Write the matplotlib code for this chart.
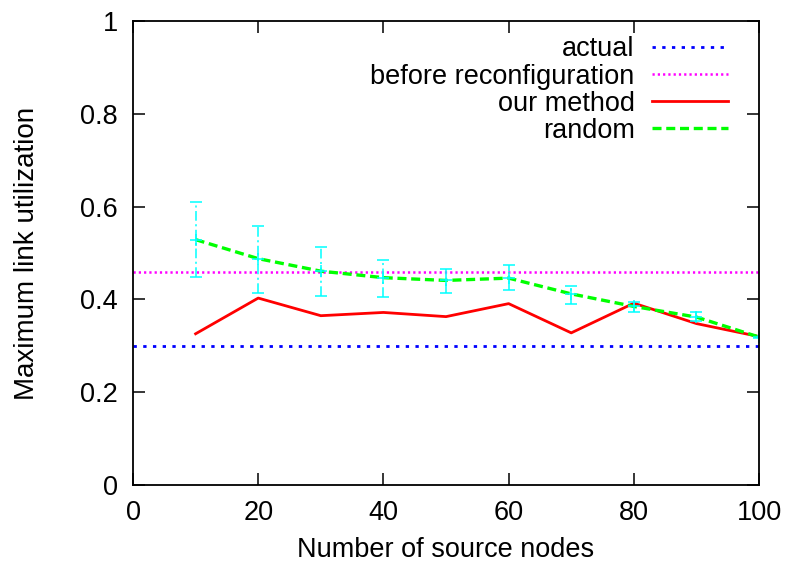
import numpy as np
import matplotlib
matplotlib.use("Agg")
import matplotlib.pyplot as plt

plt.rcParams['font.family'] = ['Liberation Sans', 'DejaVu Sans']
plt.rcParams['lines.scale_dashes'] = False

# number of source nodes
nodes = [10, 20, 30, 40, 50, 60, 70, 80, 90, 100]

# max link utilization per method
ours = [0.326, 0.403, 0.365, 0.372, 0.363, 0.391, 0.328, 0.392, 0.348, 0.320]
rand_mean = [0.529, 0.488, 0.461, 0.447, 0.441, 0.446, 0.412, 0.385, 0.362, 0.319]
rand_hi = [0.610, 0.559, 0.514, 0.485, 0.465, 0.474, 0.430, 0.395, 0.373, 0.321]
rand_lo = [0.449, 0.414, 0.408, 0.405, 0.413, 0.420, 0.391, 0.374, 0.353, 0.317]

actual_val = 0.30
before_val = 0.46

fs = 19.5

fig = plt.figure(figsize=(7.87, 5.63), dpi=100)
ax = fig.add_axes([0.169, 0.1385, 0.7955, 0.824])

ax.axhline(actual_val, color='#0000ff', lw=2.0, ls=(0, (2.4, 4.6)), label='actual')
ax.axhline(before_val, color='#ff00ff', lw=1.8, ls=(0, (1.6, 2.2)), label='before reconfiguration')
ax.plot(nodes, ours, color='#ff0000', lw=2.0, label='our method')

mean = np.array(rand_mean)
yerr = [mean - np.array(rand_lo), np.array(rand_hi) - mean]
eb = ax.errorbar(nodes, rand_mean, yerr=yerr, fmt='+', color='#00ffff',
                 ms=8.5, mew=1.1, elinewidth=1.1, capsize=4.2, capthick=1.1)
eb[2][0].set_linestyle((0, (7, 2.5, 1.5, 2.5)))

ax.plot(nodes, rand_mean, color='#00ff00', lw=2.4, ls=(0, (6.5, 3.4)), label='random')

ax.set_xlim(0, 100)
ax.set_ylim(0, 1)
ax.set_xticks(np.arange(0, 101, 20))
ax.set_yticks([0, 0.2, 0.4, 0.6, 0.8, 1])
ax.set_yticklabels(['0', '0.2', '0.4', '0.6', '0.8', '1'])
ax.tick_params(direction='in', length=8.6, width=1.1, labelsize=fs, pad=11,
               top=True, right=True)
for s in ax.spines.values():
    s.set_linewidth(1.3)

ax.set_xlabel('Number of source nodes', fontsize=fs, labelpad=8)
ax.set_ylabel('Maximum link utilization', fontsize=20, labelpad=29)

ax.legend(loc='upper right', bbox_to_anchor=(0.9505, 0.967), frameon=False,
          markerfirst=False, fontsize=fs, handlelength=2.8, handletextpad=0.65,
          labelspacing=0.04, borderpad=0, borderaxespad=0)

fig.savefig('out.png', dpi=100)
